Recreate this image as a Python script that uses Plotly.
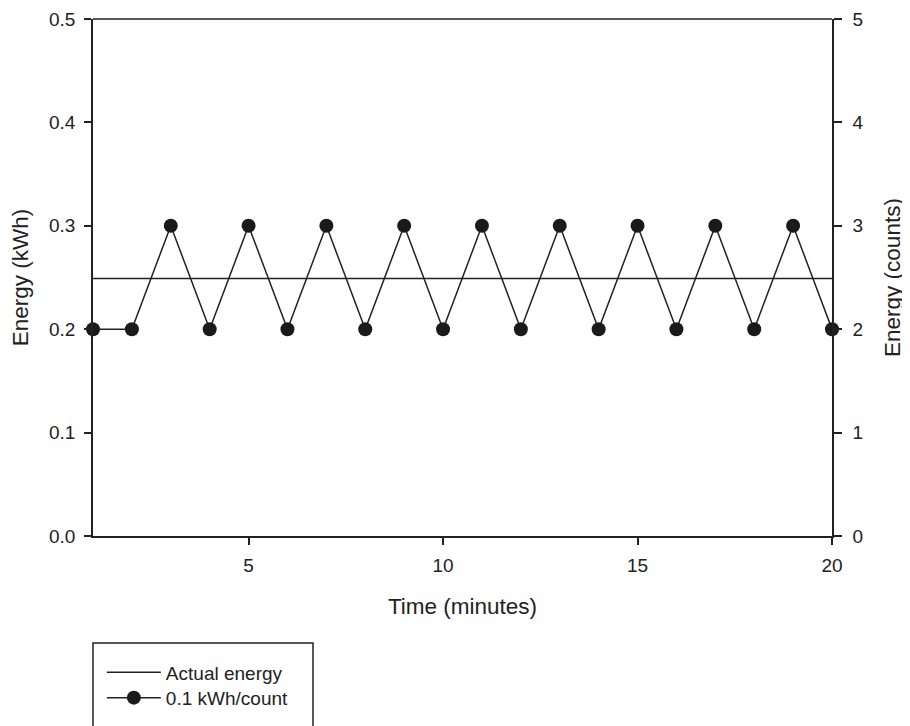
import plotly.graph_objects as go

time_min = list(range(1, 21))
counts_kwh = [0.2, 0.2, 0.3, 0.2, 0.3, 0.2, 0.3, 0.2, 0.3, 0.2,
              0.3, 0.2, 0.3, 0.2, 0.3, 0.2, 0.3, 0.2, 0.3, 0.2]
actual_x = [1, 20]
actual_energy = [0.249, 0.249]

x_ticks = [5, 10, 15, 20]
left_ticks = [0.0, 0.1, 0.2, 0.3, 0.4, 0.5]
left_labels = ["0.0", "0.1", "0.2", "0.3", "0.4", "0.5"]
right_ticks = [0, 1, 2, 3, 4, 5]

FONT = "Liberation Sans, Arial, sans-serif"
INK = "#222222"
TICK_SIZE = 19
TITLE_SIZE = 22.5

fig = go.Figure()
fig.add_trace(go.Scatter(
    x=actual_x, y=actual_energy, mode="lines", name="Actual energy",
    line=dict(color=INK, width=1.5), cliponaxis=False, legend="legend"))
fig.add_trace(go.Scatter(
    x=time_min, y=counts_kwh, mode="lines+markers", name="0.1 kWh/count",
    line=dict(color=INK, width=1.5),
    marker=dict(color="#1a1a1a", size=14), cliponaxis=False, legend="legend2"))
# invisible trace to activate the right axis
fig.add_trace(go.Scatter(x=[1], y=[0], yaxis="y2", mode="markers",
                         marker=dict(opacity=0), showlegend=False, hoverinfo="skip"))

def axis_style(ticklen, standoff):
    return dict(showgrid=False, zeroline=False, showline=True, linecolor=INK,
                linewidth=1.5, ticks="outside", ticklen=ticklen, tickwidth=1.5,
                tickcolor=INK, automargin=False, ticklabelstandoff=standoff,
                ticklabeloverflow="allow",
                tickfont=dict(family=FONT, size=TICK_SIZE, color=INK))

legend_style = dict(x=0.012, xanchor="left", yanchor="middle",
                    bgcolor="rgba(0,0,0,0)", borderwidth=0,
                    font=dict(family=FONT, size=19, color=INK), itemwidth=54)

# margins account for the page's default 8px body margin
fig.update_layout(
    width=910, height=726,
    margin=dict(l=85, r=86, t=11, b=198),
    paper_bgcolor="white", plot_bgcolor="white",
    font=dict(family=FONT, color=INK),
    xaxis=dict(range=[1, 20], tickvals=x_ticks,
               title=dict(text="Time (minutes)", font=dict(family=FONT, size=TITLE_SIZE, color=INK), standoff=24),
               **axis_style(7, 4)),
    yaxis=dict(range=[0, 0.5], tickvals=left_ticks, ticktext=left_labels,
               title=dict(text="Energy (kWh)", font=dict(family=FONT, size=TITLE_SIZE, color=INK), standoff=19),
               **axis_style(7, 5)),
    yaxis2=dict(range=[0, 5], tickvals=right_ticks, overlaying="y", side="right",
                title=dict(text="Energy (counts)", font=dict(family=FONT, size=TITLE_SIZE, color=INK), standoff=22),
                **axis_style(8, 7)),
    showlegend=True,
    legend=dict(y=-0.264, **legend_style),
    legend2=dict(y=-0.313, **legend_style),
)

# top frame line
fig.add_shape(type="line", xref="paper", yref="paper", x0=0, x1=1, y0=1, y1=1,
              line=dict(color=INK, width=1.5))
# legend frame (extends past the bottom of the figure)
fig.add_shape(type="rect", xref="paper", yref="paper", x0=0, x1=0.2977, y0=-0.207, y1=-0.45,
              line=dict(color=INK, width=1.5), fillcolor="rgba(0,0,0,0)")

fig.write_html("out.html", config={"displayModeBar": False})
